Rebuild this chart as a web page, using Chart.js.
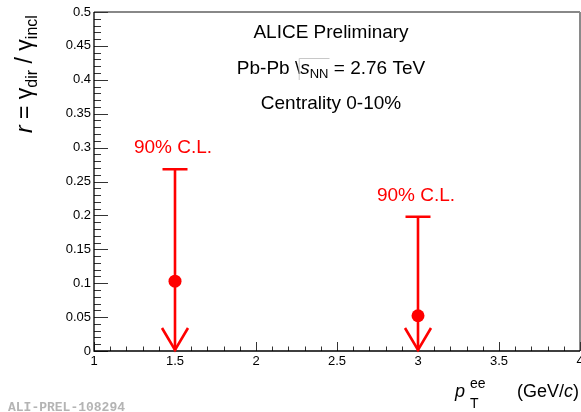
<!DOCTYPE html>
<html>
<head>
<meta charset="utf-8">
<script src="https://cdn.jsdelivr.net/npm/chart.js@4.4.1/dist/chart.umd.min.js"></script>
<style>
  html, body { margin: 0; padding: 0; background: #fff; }
  #wrap { width: 581px; height: 412px; }
</style>
</head>
<body>
<div id="wrap"><canvas id="c" width="581" height="412"></canvas></div>
<script>
// ---- data ----
const ptValues = [1.5, 3.0];              // pT^ee (GeV/c)
const rValues = [0.103, 0.052];           // central values of r
const rUpperLimits = [0.268, 0.198];      // 90% C.L. upper limits
const limitLabels = ["90% C.L.", "90% C.L."];
const xTickValues = [1, 1.5, 2, 2.5, 3, 3.5, 4];
const yTickValues = [0, 0.05, 0.1, 0.15, 0.2, 0.25, 0.3, 0.35, 0.4, 0.45, 0.5];
const infoLines = ["ALICE Preliminary", "Pb-Pb", "Centrality 0-10%"];
const watermark = "ALI-PREL-108294";

const RED = '#ff0000';
const FONT = '"Liberation Sans", Arial, Helvetica, sans-serif';

function fmt(v) {
  const r = parseFloat(Number(v).toFixed(2));
  return r.toString();
}

const decorPlugin = {
  id: 'decor',
  beforeDatasetsDraw(chart) {
    const ctx = chart.ctx;
    const xs = chart.scales.x, ys = chart.scales.y;
    const a = chart.chartArea;
    ctx.save();
    // frame (top and right)
    ctx.strokeStyle = '#606060';
    ctx.lineWidth = 1.5;
    ctx.beginPath();
    ctx.moveTo(a.left, a.top); ctx.lineTo(a.right, a.top);
    ctx.stroke();
    ctx.strokeStyle = '#8a8a8a';
    ctx.lineWidth = 2;
    ctx.beginPath();
    ctx.moveTo(a.right, a.top); ctx.lineTo(a.right, a.bottom);
    ctx.stroke();

    // minor + major ticks (inside)
    ctx.strokeStyle = '#333';
    ctx.lineWidth = 1;
    for (let i = 0; i <= 50; i++) {
      const v = i * 0.01;
      const y = Math.round(ys.getPixelForValue(v)) + 0.5;
      const len = (i % 5 === 0) ? 14 : 7;
      ctx.beginPath();
      ctx.moveTo(a.left, y); ctx.lineTo(a.left + len, y);
      ctx.stroke();
    }
    for (let i = 0; i <= 30; i++) {
      const v = 1 + i * 0.1;
      const x = Math.round(xs.getPixelForValue(v)) + 0.5;
      const len = (i % 5 === 0) ? 9 : 4.5;
      ctx.beginPath();
      ctx.moveTo(x, a.bottom); ctx.lineTo(x, a.bottom - len);
      ctx.stroke();
    }
    // axis lines
    ctx.strokeStyle = '#000';
    ctx.lineWidth = 1.3;
    ctx.beginPath();
    ctx.moveTo(a.left, a.top); ctx.lineTo(a.left, a.bottom); ctx.lineTo(a.right, a.bottom);
    ctx.stroke();

    // upper limit arrows
    ctx.strokeStyle = RED;
    ctx.fillStyle = RED;
    ctx.lineWidth = 2.6;
    ctx.lineCap = 'butt';
    for (let i = 0; i < ptValues.length; i++) {
      const x = xs.getPixelForValue(ptValues[i]);
      const yTop = ys.getPixelForValue(rUpperLimits[i]);
      const y0 = ys.getPixelForValue(0);
      ctx.beginPath();
      ctx.moveTo(x, yTop); ctx.lineTo(x, y0);
      ctx.moveTo(x - 12.5, yTop); ctx.lineTo(x + 12.5, yTop);
      ctx.stroke();
      ctx.beginPath();
      ctx.moveTo(x - 13, y0 - 23); ctx.lineTo(x, y0 - 1); ctx.lineTo(x + 13, y0 - 23);
      ctx.stroke();
      ctx.font = '19px ' + FONT;
      ctx.textAlign = 'center';
      ctx.textBaseline = 'alphabetic';
      ctx.fillText(limitLabels[i], x - 2, yTop - 16);
    }
    ctx.restore();
  },
  afterDraw(chart) {
    const ctx = chart.ctx;
    ctx.save();
    ctx.fillStyle = '#000';
    ctx.textBaseline = 'alphabetic';
    ctx.font = '19px ' + FONT;
    ctx.textAlign = 'center';
    ctx.fillText(infoLines[0], 331, 38);
    ctx.fillText(infoLines[2], 331, 109);
    ctx.textAlign = 'left';
    const parts = [
      { t: 'Pb-Pb ', f: '19px ' + FONT, dy: 0 },
      { t: '\\', f: '19px ' + FONT, dy: 0 },
      { t: 's', f: 'italic 19px ' + FONT, dy: 0, over: true },
      { t: 'NN', f: '13px ' + FONT, dy: 4, over: true },
      { t: ' = 2.76 TeV', f: '19px ' + FONT, dy: 0 }
    ];
    let total = 0;
    parts.forEach(p => { ctx.font = p.f; p.w = ctx.measureText(p.t).width; total += p.w; });
    let x = 331 - total / 2;
    const base = 74;
    let overStart = null, overEnd = null;
    parts.forEach(p => {
      ctx.font = p.f;
      ctx.fillText(p.t, x, base + p.dy);
      if (p.over) { if (overStart === null) overStart = x; overEnd = x + p.w; }
      x += p.w;
    });
    ctx.strokeStyle = '#c8c8c8';
    ctx.lineWidth = 1;
    ctx.beginPath();
    ctx.moveTo(overStart - 1, base + 6); ctx.lineTo(overStart - 1, base - 15.5); ctx.lineTo(overEnd + 1, base - 15.5);
    ctx.stroke();

    // y-axis title (rotated)
    ctx.save();
    ctx.translate(32, 133);
    ctx.rotate(-Math.PI / 2);
    const yt = [
      { t: 'r', f: 'italic 23px ' + FONT, dy: 0 },
      { t: ' = ', f: '23px ' + FONT, dy: 0 },
      { t: 'γ', f: '23px ' + FONT, dy: 0 },
      { t: 'dir', f: '16px ' + FONT, dy: 5 },
      { t: ' / ', f: '23px ' + FONT, dy: 0 },
      { t: 'γ', f: '23px ' + FONT, dy: 0 },
      { t: 'incl', f: '16px ' + FONT, dy: 5 }
    ];
    let yx = 0;
    yt.forEach(p => {
      ctx.font = p.f;
      ctx.fillText(p.t, yx, p.dy);
      yx += ctx.measureText(p.t).width;
    });
    ctx.restore();

    // x-axis title
    ctx.font = 'italic 18px ' + FONT;
    ctx.fillText('p', 455, 397);
    ctx.font = '14px ' + FONT;
    ctx.fillText('ee', 470, 388);
    ctx.fillText('T', 470, 408);
    ctx.font = '18px ' + FONT;
    const gx = 517;
    ctx.fillText('(GeV/', gx, 397);
    let w1 = ctx.measureText('(GeV/').width;
    ctx.font = 'italic 18px ' + FONT;
    ctx.fillText('c', gx + w1, 397);
    let w2 = ctx.measureText('c').width;
    ctx.font = '18px ' + FONT;
    ctx.fillText(')', gx + w1 + w2, 397);

    // watermark
    ctx.font = 'bold 13px "Liberation Mono", "DejaVu Sans Mono", monospace';
    ctx.fillStyle = '#b4b4b4';
    ctx.fillText(watermark, 8, 411);
    ctx.restore();
  }
};

new Chart(document.getElementById('c'), {
  type: 'scatter',
  data: {
    datasets: [{
      data: ptValues.map((x, i) => ({ x: x, y: rValues[i] })),
      backgroundColor: RED,
      borderColor: RED,
      pointRadius: 6.5,
      pointHoverRadius: 6.5,
      borderWidth: 0
    }]
  },
  options: {
    responsive: false,
    animation: false,
    events: [],
    layout: { autoPadding: false, padding: { top: 12, right: 1, left: 0, bottom: 0 } },
    plugins: { legend: { display: false }, tooltip: { enabled: false } },
    scales: {
      x: {
        type: 'linear', min: 1, max: 4,
        afterFit: s => { s.height = 61; s.paddingLeft = 0; s.paddingRight = 0; },
        afterBuildTicks: s => { s.ticks = xTickValues.map(v => ({ value: v })); },
        grid: { display: false, drawTicks: false },
        border: { display: false },
        ticks: {
          autoSkip: false, maxRotation: 0, padding: 3,
          color: '#000', font: { size: 13, family: FONT },
          callback: v => fmt(v)
        }
      },
      y: {
        type: 'linear', min: 0, max: 0.5,
        afterFit: s => { s.width = 94; s.paddingTop = 0; s.paddingBottom = 0; },
        afterBuildTicks: s => { s.ticks = yTickValues.map(v => ({ value: v })); },
        grid: { display: false, drawTicks: false },
        border: { display: false },
        ticks: {
          autoSkip: false, padding: 3,
          color: '#000', font: { size: 13, family: FONT },
          callback: v => fmt(v)
        }
      }
    }
  },
  plugins: [decorPlugin]
});
</script>
</body>
</html>
